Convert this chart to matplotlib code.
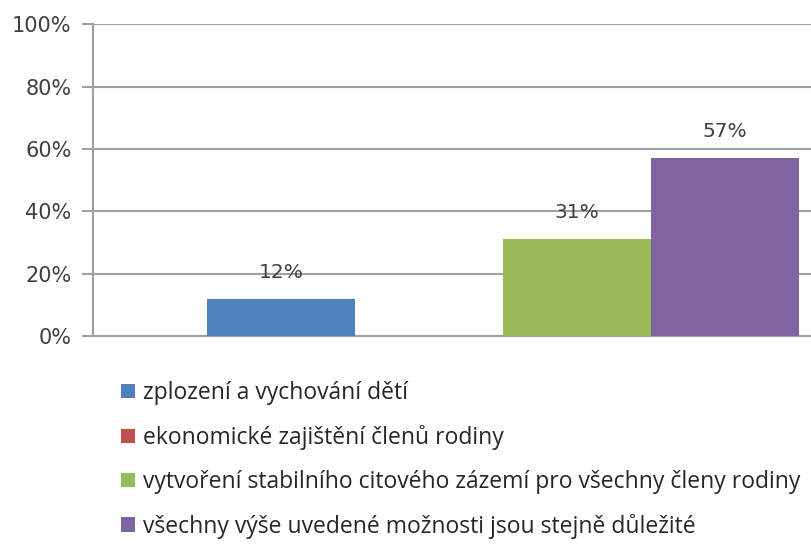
import matplotlib.pyplot as plt
from matplotlib.patches import Patch

# hodnoty z grafu
kategorie = [
    "zplození a vychování dětí",
    "ekonomické zajištění členů rodiny",
    "vytvoření stabilního citového zázemí pro všechny členy rodiny",
    "všechny výše uvedené možnosti jsou stejně důležité",
]
hodnoty = [0.12, 0.0, 0.31, 0.57]
barvy = ["#4f81bd", "#c0504d", "#9bbb59", "#8064a2"]
yticks = [0, 0.2, 0.4, 0.6, 0.8, 1.0]
ytick_labels = ["0%", "20%", "40%", "60%", "80%", "100%"]

plt.rcParams["font.family"] = ["DejaVu Sans"]

fig = plt.figure(figsize=(8.12, 5.44), dpi=100)
# osa presahuje pravy okraj obrazku (jako v originale)
ax = fig.add_axes([93 / 812, 208 / 544, 821 / 812, 311.6 / 544])

bar_w = 148
start = 207 - 93
for i, (v, c) in enumerate(zip(hodnoty, barvy)):
    x = start + i * bar_w
    ax.bar(x, v, width=bar_w, color=c, align="edge", zorder=3)
    if v > 0:
        ax.text(x + bar_w / 2, v + 0.085, f"{v:.0%}", ha="center", va="center",
                fontsize=14.5, color="#404040")

ax.set_xlim(0, 821)
ax.set_ylim(0, 1)
ax.set_yticks(yticks)
ax.set_yticklabels(ytick_labels, fontsize=15, color="#404040")
ax.tick_params(axis="y", length=8, width=1.5, color="#a0a0a0", pad=7.5)
ax.set_xticks([])
ax.grid(axis="y", color="#a0a0a0", linewidth=1.5, zorder=0)
for s in ["top", "right"]:
    ax.spines[s].set_visible(False)
ax.spines["left"].set_color("#a0a0a0")
ax.spines["left"].set_linewidth(1.5)
ax.spines["bottom"].set_color("#a0a0a0")
ax.spines["bottom"].set_linewidth(1.5)

handles = [Patch(facecolor=c, edgecolor="none") for c in barvy]
fig.legend(handles, kategorie, loc="upper left", bbox_to_anchor=(110 / 812, 1 - 370 / 544),
           frameon=False, prop={"family": "Open Sans", "size": 16.5},
           handlelength=0.57, handleheight=0.57, handletextpad=0.35,
           labelspacing=0.86, borderpad=0, labelcolor="#262626")

fig.savefig("out.png", dpi=100)
